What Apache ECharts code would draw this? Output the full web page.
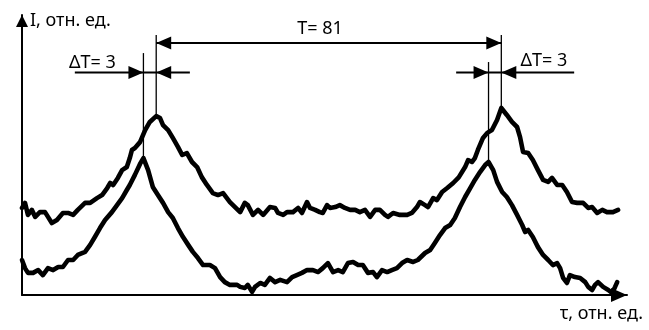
<!DOCTYPE html>
<html>
<head>
<meta charset="utf-8">
<script src="https://cdn.jsdelivr.net/npm/echarts@6.0.0/dist/echarts.min.js"></script>
<style>
  html, body { margin: 0; padding: 0; background: #ffffff; }
  #chart { width: 649px; height: 330px; }
</style>
</head>
<body>
<div id="chart"></div>
<script>
// Upper trace: time (rel. units) and intensity (rel. units)
const upperT = [0, 0.7, 1.4, 2.3, 3.1, 4.2, 5.4, 6.1, 7.0, 8.2, 9.6, 10.8, 12.0, 13.1, 14.8, 16.0, 17.6, 18.8, 20.0, 20.7,
  21.4, 22.5, 23.5, 24.6, 25.3, 25.8, 26.5, 27.7, 28.9, 30.0, 31.5, 32.4, 33.1, 34.3, 35.4, 36.6, 37.6, 38.7, 39.9, 41.1,
  42.2, 43.4, 44.8, 46.0, 47.2, 48.8, 50.0, 51.2, 52.3, 53.0, 54.2, 55.4, 56.6, 58.2, 59.4, 60.1, 61.3, 62.2, 63.6, 64.8,
  65.7, 66.9, 67.6, 68.8, 69.9, 70.6, 71.6, 72.3, 73.5, 74.6, 75.8, 77.0, 78.2, 79.3, 80.5, 81.7, 82.9, 84.0, 85.2, 85.9,
  87.1, 88.7, 90.4, 91.5, 92.7, 93.4, 94.6, 95.3, 96.5, 97.4, 98.6, 99.8, 101.2, 102.5, 104.0, 104.7, 105.6, 106.3, 107.0, 108.2,
  109.2, 110.3, 111.5, 112.5, 113.8, 115.0, 116.2, 116.9, 117.6, 118.8, 119.9, 121.1, 122.3, 123.5, 124.4, 125.6, 126.8, 127.9, 129.1, 130.3,
  131.7, 132.9, 133.8, 135.0, 136.2, 137.3, 138.7, 139.9];
const upperI = [31.1, 32.9, 28.6, 30.4, 27.9, 29.6, 29.6, 27.9, 25.7, 26.8, 29.3, 29.3, 28.6, 30.4, 32.9, 32.9, 34.6, 35.7, 38.2, 40.0,
  39.3, 41.8, 44.6, 45.7, 48.9, 51.8, 52.5, 54.6, 58.9, 61.8, 63.9, 63.2, 60.7, 58.9, 56.1, 52.9, 50.0, 50.7, 47.5, 45.7,
  42.1, 39.3, 36.4, 35.7, 36.4, 33.2, 31.4, 29.6, 32.9, 32.1, 28.6, 30.4, 28.6, 31.4, 31.1, 29.3, 28.6, 29.6, 29.6, 31.1,
  29.3, 33.2, 31.1, 30.4, 29.6, 29.3, 32.1, 31.1, 31.4, 32.1, 31.1, 30.4, 30.4, 29.6, 30.4, 27.9, 30.4, 30.4, 28.6, 27.9,
  29.3, 28.6, 28.6, 29.3, 31.4, 33.2, 32.1, 31.4, 34.6, 33.9, 36.8, 38.2, 40.0, 42.0, 45.7, 48.2, 47.5, 48.9, 51.8, 56.1,
  57.9, 58.9, 62.5, 66.8, 64.3, 61.8, 60.0, 56.4, 51.1, 50.7, 48.2, 44.6, 41.1, 40.4, 41.8, 39.3, 39.3, 36.8, 33.2, 32.9,
  32.9, 31.1, 31.4, 29.3, 30.4, 29.6, 29.6, 30.4];

// Lower trace
const lowerT = [0, 0.7, 1.4, 2.6, 3.8, 4.9, 6.1, 7.3, 8.5, 9.6, 10.8, 12.0, 13.1, 14.8, 16.0, 17.1, 18.3, 19.5, 21.1, 22.3,
  23.5, 24.6, 25.3, 26.5, 27.7, 28.5, 29.6, 30.7, 31.9, 33.1, 34.3, 35.4, 36.6, 37.8, 39.0, 40.1, 41.3, 42.5, 44.1, 45.3,
  46.5, 47.6, 48.8, 50.5, 51.2, 52.3, 53.0, 54.0, 54.7, 55.9, 57.0, 58.2, 59.4, 60.6, 62.2, 63.4, 64.5, 65.7, 66.9, 68.3,
  69.5, 70.6, 71.8, 73.0, 74.2, 75.3, 76.5, 77.7, 78.9, 80.0, 81.2, 82.4, 83.3, 84.5, 85.7, 86.8, 88.0, 89.2, 90.4, 91.8,
  92.9, 94.6, 95.8, 96.9, 98.1, 99.3, 100.5, 101.6, 102.8, 104.0, 105.2, 106.3, 107.5, 108.7, 109.5, 110.6, 111.5, 112.7, 113.8, 115.0,
  116.2, 117.4, 118.1, 118.8, 119.9, 121.1, 122.3, 123.5, 124.6, 125.6, 126.3, 127.0, 127.9, 128.6, 129.8, 131.0, 132.2, 132.9, 133.8, 134.5,
  135.2, 136.4, 137.6, 138.5, 139.2, 139.7];
const lowerI = [12.5, 9.6, 7.9, 7.9, 8.9, 7.1, 9.6, 8.9, 10.0, 10.0, 12.5, 12.5, 14.3, 15.4, 17.9, 20.7, 23.9, 26.8, 29.6, 32.1,
  34.6, 37.5, 39.3, 42.9, 46.8, 48.9, 44.6, 38.6, 35.7, 32.9, 29.6, 27.5, 23.9, 20.7, 17.9, 15.4, 13.2, 10.7, 10.7, 9.6,
  6.4, 4.6, 3.6, 3.6, 2.9, 2.5, 3.6, 1.1, 2.9, 4.3, 3.6, 6.1, 4.6, 5.4, 4.6, 6.4, 7.1, 7.9, 8.9, 8.9,
  8.2, 9.6, 11.4, 8.2, 8.9, 8.2, 11.4, 11.8, 10.7, 10.7, 7.9, 8.2, 6.4, 8.9, 8.2, 8.9, 9.6, 11.4, 12.5, 11.8,
  12.5, 15.0, 16.1, 18.6, 21.4, 23.9, 25.0, 27.5, 31.4, 35.0, 38.2, 41.1, 43.9, 46.4, 47.5, 44.6, 40.4, 36.8, 35.0, 32.1,
  28.6, 25.0, 22.5, 23.2, 20.7, 17.1, 14.3, 12.5, 10.7, 11.4, 9.6, 6.1, 4.3, 7.1, 6.4, 6.1, 4.6, 2.9, 1.8, 3.6,
  4.6, 2.9, 1.8, 0.7, 2.9, 4.6];

// Peak positions used for the period and shift markers
const upperPeaksT = [31.5, 112.5];
const upperPeaksI = [63.9, 66.8];
const lowerPeaksT = [28.5, 109.5];
const lowerPeaksI = [48.9, 47.5];

const period = upperPeaksT[1] - upperPeaksT[0];   // 81
const shift = upperPeaksT[0] - lowerPeaksT[0];     // 3

const axisTitleY = 'I, отн. ед.';
const axisTitleX = 'τ, отн. ед.';

const zip = (a, b) => a.map((v, k) => [v, b[k]]);

const FONT = '"Noto Sans", sans-serif';
const INK = '#000000';

const chart = echarts.init(document.getElementById('chart'), null, { renderer: 'canvas' });

chart.setOption({
  animation: false,
  backgroundColor: '#ffffff',
  grid: { left: 22, top: 15, width: 605, height: 280, containLabel: false },
  xAxis: {
    type: 'value', min: 0, max: 142,
    axisLine: { show: true, onZero: false, lineStyle: { color: INK, width: 2 },
      symbol: ['none', 'triangle'], symbolSize: [14, 16], symbolOffset: [0, -8] },
    axisTick: { show: false }, axisLabel: { show: false }, splitLine: { show: false }
  },
  yAxis: {
    type: 'value', min: 0, max: 100,
    axisLine: { show: true, onZero: false, lineStyle: { color: INK, width: 2 },
      symbol: ['none', 'triangle'], symbolSize: [12, 12], symbolOffset: [0, -6] },
    axisTick: { show: false }, axisLabel: { show: false }, splitLine: { show: false }
  },
  series: [
    { type: 'line', data: zip(upperT, upperI), showSymbol: false, clip: false, z: 3,
      lineStyle: { color: INK, width: 4.6, join: 'round', cap: 'round' } },
    { type: 'line', data: zip(lowerT, lowerI), showSymbol: false, clip: false, z: 3,
      lineStyle: { color: INK, width: 4.6, join: 'round', cap: 'round' } }
  ]
});

// Marker geometry in axis units (levels and extents of the dimension lines)
const marks = {
  periodLevel: 90.0,
  upperTop: 92.9,
  lowerTop: [86.4, 83.2],
  shiftLevel: 79.5,
  shiftTail: [[12.4, 39.4], [101.9, 129.6]]
};

const P = (t, i) => chart.convertToPixel({ gridIndex: 0 }, [t, i]);
const HEAD_L = 15, HEAD_W = 13;

const els = [];
function seg(a, b, w) {
  els.push({ type: 'line', silent: true, z: 10,
    shape: { x1: a[0], y1: a[1], x2: b[0], y2: b[1] },
    style: { stroke: INK, lineWidth: w } });
}
function head(p, dir) {
  const [x, y] = p;
  els.push({ type: 'polygon', silent: true, z: 11,
    shape: { points: [[x, y], [x - dir * HEAD_L, y - HEAD_W / 2], [x - dir * HEAD_L, y + HEAD_W / 2]] },
    style: { fill: INK } });
}
function label(text, x, y, align) {
  els.push({ type: 'text', silent: true, z: 12, x: x, y: y,
    style: { text: text, fill: INK, font: '18px ' + FONT, align: align || 'center', verticalAlign: 'middle' } });
}

// Vertical extension lines from each peak
for (let k = 0; k < 2; k++) {
  seg(P(upperPeaksT[k], upperPeaksI[k]), P(upperPeaksT[k], marks.upperTop), 1.3);
  seg(P(lowerPeaksT[k], lowerPeaksI[k]), P(lowerPeaksT[k], marks.lowerTop[k]), 1.3);
}

// Period dimension between the upper peaks
const pa = P(upperPeaksT[0], marks.periodLevel), pb = P(upperPeaksT[1], marks.periodLevel);
seg(pa, pb, 2);
head(pa, -1);
head(pb, 1);
label('T= ' + period, 320, pa[1] - 14);

// Shift dimensions at each pair of peaks
for (let k = 0; k < 2; k++) {
  const l = P(marks.shiftTail[k][0], marks.shiftLevel);
  const r = P(marks.shiftTail[k][1], marks.shiftLevel);
  seg(l, r, 2);
  head(P(lowerPeaksT[k], marks.shiftLevel), 1);
  head(P(upperPeaksT[k], marks.shiftLevel), -1);
}
const s0 = P(marks.shiftTail[0][0], marks.shiftLevel);
label('ΔT= ' + shift, 92.5, s0[1] - 10);
label('ΔT= ' + shift, 544, s0[1] - 12);

// Axis titles
const origin = P(0, 0);
label(axisTitleY, origin[0] + 8, 21, 'left');
label(axisTitleX, 643, 314, 'right');

chart.setOption({ graphic: { elements: els } });
</script>
</body>
</html>
